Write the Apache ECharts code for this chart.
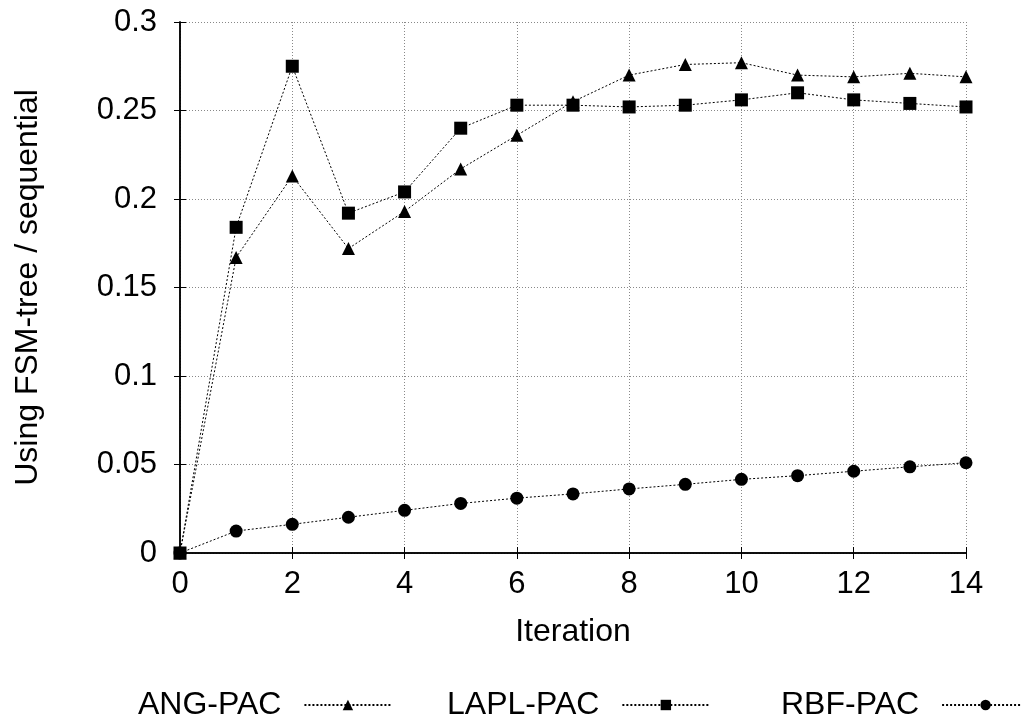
<!DOCTYPE html>
<html>
<head>
<meta charset="utf-8">
<script src="https://cdn.jsdelivr.net/npm/echarts@6/dist/echarts.min.js"></script>
<style>
  html, body { margin: 0; padding: 0; background: #fff; }
  #chart { width: 1021px; height: 720px; }
</style>
</head>
<body>
<div id="chart"></div>
<script>
// iterations
var iterations = [0, 1, 2, 3, 4, 5, 6, 7, 8, 9, 10, 11, 12, 13, 14];
// series values
var angPac = [0, 0.167, 0.213, 0.172, 0.193, 0.217, 0.236, 0.255, 0.270, 0.276, 0.277, 0.270, 0.269, 0.271, 0.269];
var laplPac = [0, 0.184, 0.275, 0.192, 0.204, 0.240, 0.253, 0.253, 0.252, 0.253, 0.256, 0.260, 0.256, 0.254, 0.252];
var rbfPac = [0, 0.0124, 0.0162, 0.0202, 0.0241, 0.028, 0.031, 0.0334, 0.0362, 0.0388, 0.0416, 0.0437, 0.0462, 0.0487, 0.051];

var font = 'Liberation Sans, Arial, Helvetica, sans-serif';

function pairs(vals) {
  return iterations.map(function (x, i) { return [x, vals[i]]; });
}

var chart = echarts.init(document.getElementById('chart'), null, { renderer: 'canvas' });

var gridLine = { show: true, lineStyle: { color: '#888', type: [1, 2], width: 1 } };

function makeSeries(name, vals, symbol, size) {
  return {
    name: name,
    type: 'line',
    data: pairs(vals),
    symbol: symbol,
    symbolSize: size,
    showSymbol: true,
    animation: false,
    lineStyle: { color: '#000', width: 1, type: [2, 2] },
    itemStyle: { color: '#000' },
    z: 3
  };
}

// one legend box per entry, text before its sample line
function legendAt(name, left) {
  return {
    data: [name],
    left: left,
    top: 684,
    align: 'right',
    itemWidth: 87,
    itemHeight: 13,
    selectedMode: false,
    textStyle: { fontFamily: font, fontSize: 32, color: '#000', padding: [0, 18, 0, 0] }
  };
}

var option = {
  backgroundColor: '#fff',
  animation: false,
  grid: { left: 180, top: 22, right: 55, bottom: 167, containLabel: false },
  legend: [
    legendAt('ANG-PAC', 133),
    legendAt('LAPL-PAC', 442),
    legendAt('RBF-PAC', 776)
  ],
  xAxis: [
    {
      type: 'value', min: 0, max: 14, interval: 2,
      name: 'Iteration', nameLocation: 'middle', nameGap: 63,
      nameTextStyle: { fontFamily: font, fontSize: 32, color: '#000' },
      axisLine: { show: true, lineStyle: { color: '#000', width: 1.5 } },
      axisTick: { show: true, inside: true, length: 6, lineStyle: { color: '#000' } },
      axisLabel: { fontFamily: font, fontSize: 31, color: '#000', margin: 16 },
      splitLine: gridLine
    },
    {
      type: 'value', min: 0, max: 14, interval: 2, position: 'top',
      axisLine: { show: true, lineStyle: { color: '#000', width: 1.5 } },
      axisTick: { show: true, inside: true, length: 6, lineStyle: { color: '#000' } },
      axisLabel: { show: false },
      splitLine: { show: false }
    }
  ],
  yAxis: [
    {
      type: 'value', min: 0, max: 0.3, interval: 0.05,
      name: 'Using FSM-tree / sequential', nameLocation: 'middle', nameGap: 136,
      nameTextStyle: { fontFamily: font, fontSize: 32, color: '#000' },
      axisLine: { show: true, lineStyle: { color: '#000', width: 1.5 } },
      axisTick: { show: true, inside: true, length: 6, lineStyle: { color: '#000' } },
      axisLabel: {
        fontFamily: font, fontSize: 31, color: '#000', margin: 23,
        formatter: function (v) { return String(parseFloat(v.toFixed(2))); }
      },
      splitLine: gridLine
    },
    {
      type: 'value', min: 0, max: 0.3, interval: 0.05, position: 'right',
      axisLine: { show: true, lineStyle: { color: '#000', width: 1.5 } },
      axisTick: { show: true, inside: true, length: 6, lineStyle: { color: '#000' } },
      axisLabel: { show: false },
      splitLine: { show: false }
    }
  ],
  series: [
    makeSeries('ANG-PAC', angPac, 'triangle', 13),
    makeSeries('LAPL-PAC', laplPac, 'rect', 13),
    makeSeries('RBF-PAC', rbfPac, 'circle', 13)
  ]
};

chart.setOption(option);
</script>
</body>
</html>
